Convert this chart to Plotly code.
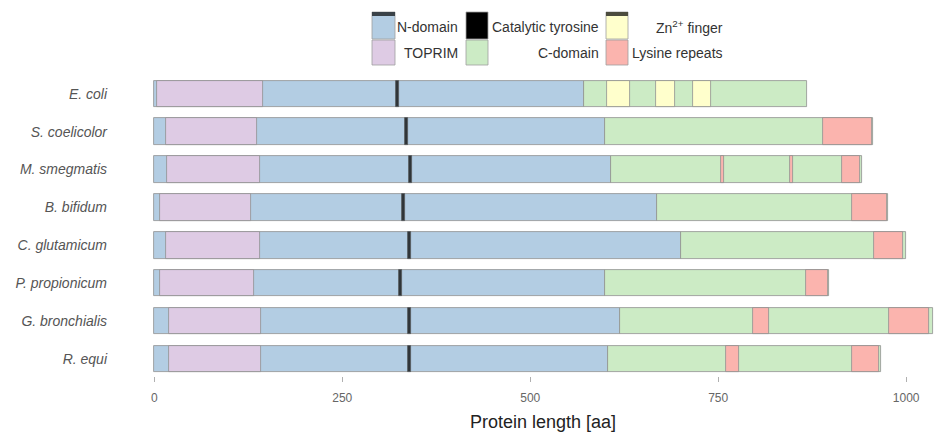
import plotly.graph_objects as go

# ---------------- data (amino-acid positions) ----------------
organisms = ["E. coli", "S. coelicolor", "M. smegmatis", "B. bifidum",
             "C. glutamicum", "P. propionicum", "G. bronchialis", "R. equi"]
protein_length = [868, 956, 941, 976, 1000, 898, 1035, 966]
n_domain_end = [572, 599, 608, 668, 701, 599, 620, 604]
toprim_start = [4, 15, 17, 7, 16, 8, 19, 19]
toprim_end = [145, 137, 141, 129, 140, 132, 142, 142]
tyrosine_pos = [323, 336, 341, 331, 340, 328, 340, 339]

zn_org = ["E. coli", "E. coli", "E. coli"]
zn_start = [602, 667, 716]
zn_end = [633, 693, 741]

lys_org = ["S. coelicolor", "M. smegmatis", "M. smegmatis", "M. smegmatis",
           "B. bifidum", "C. glutamicum", "P. propionicum",
           "G. bronchialis", "G. bronchialis", "R. equi", "R. equi"]
lys_start = [890, 754, 846, 914, 928, 957, 867, 796, 977, 760, 928]
lys_end = [955, 758, 850, 939, 975, 996, 896, 817, 1031, 777, 964]

x_ticks = [0, 250, 500, 750, 1000]

# ---------------- styling ----------------
C_N = "#b3cde3"
C_TOP = "#decbe4"
C_C = "#ccebc5"
C_ZN = "#ffffcc"
C_LYS = "#fbb4ae"
C_TYR = "#2f3438"
EDGE = "#8f8f8f"
FONT = "Liberation Sans, Arial, sans-serif"
BAR_W = 0.7
TYR_W = 4

fig = go.Figure()


def add_segments(ys, starts, ends, color, line_color=EDGE):
    fig.add_trace(go.Bar(
        y=ys, base=starts, x=[e - s for s, e in zip(starts, ends)],
        orientation="h", width=BAR_W,
        marker=dict(color=color, line=dict(color=line_color, width=0.8)),
        showlegend=False, hoverinfo="skip"))


add_segments(organisms, [0] * len(organisms), n_domain_end, C_N)
add_segments(organisms, n_domain_end, protein_length, C_C)
add_segments(organisms, toprim_start, toprim_end, C_TOP)
add_segments(zn_org, zn_start, zn_end, C_ZN)
add_segments(lys_org, lys_start, lys_end, C_LYS)
add_segments(organisms, [p - TYR_W / 2 for p in tyrosine_pos],
             [p + TYR_W / 2 for p in tyrosine_pos], C_TYR, line_color="#55595c")

# ---------------- layout ----------------
W, H = 934, 437
ML, MR, MT, MB = 152, 0, 73, 61
PW, PH = W - ML - MR, H - MT - MB


def px(x):
    return (x - ML) / PW


def py(y):
    return (H - MB - y) / PH


# custom legend (keys with right-aligned labels, as in the original)
legend_keys = [
    # x0, x1, y0, y1, fill
    (372, 395, 12, 39, C_N), (372, 395, 40, 65, C_TOP),
    (466, 488, 12, 39, "#000000"), (466, 488, 40, 65, C_C),
    (606, 628, 12, 39, C_ZN), (606, 628, 40, 65, C_LYS),
]
shapes = []
for x0, x1, y0, y1, col in legend_keys:
    shapes.append(dict(type="rect", xref="paper", yref="paper",
                       x0=px(x0), x1=px(x1), y0=py(y1), y1=py(y0),
                       fillcolor=col, line=dict(color="#a0a0a0", width=0.8)))
for x0, x1, col in [(372, 395, "#3a4248"), (606, 628, "#4c4c3e")]:
    shapes.append(dict(type="rect", xref="paper", yref="paper",
                       x0=px(x0), x1=px(x1), y0=py(16), y1=py(12),
                       fillcolor=col, line=dict(width=0)))

legend_labels = [
    ("N-domain", 460, 27), ("TOPRIM", 460, 53),
    ("Catalytic tyrosine", 601, 27), ("C-domain", 601, 53),
    ("Zn<sup>2+</sup> finger", 725, 27), ("Lysine repeats", 725, 53),
]
annotations = []
for txt, xr, yc in legend_labels:
    annotations.append(dict(text=txt, xref="paper", yref="paper",
                            x=px(xr), y=py(yc), xanchor="right", yanchor="middle",
                            showarrow=False, font=dict(size=14, color="#333333", family=FONT)))

fig.update_layout(
    width=W, height=H,
    margin=dict(l=ML, r=MR, t=MT, b=MB, autoexpand=False),
    paper_bgcolor="white", plot_bgcolor="white",
    barmode="overlay", bargap=0,
    font=dict(family=FONT),
    shapes=shapes, annotations=annotations,
    xaxis=dict(range=[-3, 1037], tickvals=x_ticks, ticks="outside", ticklen=5,
               tickcolor="#b0b0b0", tickwidth=1, showgrid=False, zeroline=False,
               showline=False, automargin=False, ticklabelstandoff=6,
               tickfont=dict(size=12, color="#666666"),
               title=dict(text="Protein length [aa]", standoff=10,
                          font=dict(size=18, color="#222222"))),
    yaxis=dict(type="category", categoryorder="array", categoryarray=organisms,
               range=[7.45, -0.55], showgrid=False, zeroline=False, showline=False,
               ticks="", ticklabelstandoff=44, automargin=False,
               tickfont=dict(size=14, color="#555555", style="italic")),
)

fig.write_html("out.html", post_script="document.body.style.margin='0';",
               config={"displayModeBar": False})
